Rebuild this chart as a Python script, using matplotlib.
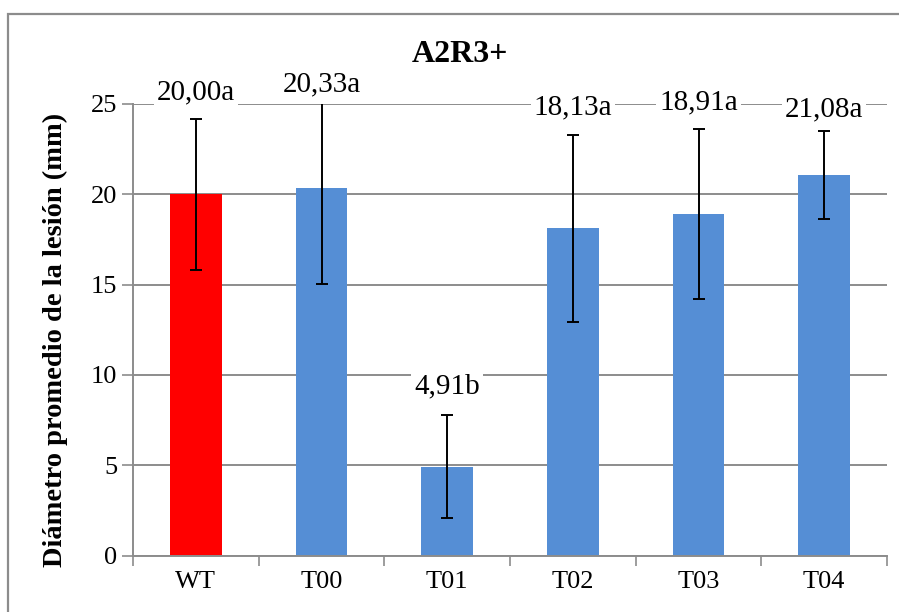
"""Bar chart: mean lesion diameter per treatment (A2R3+)."""

import matplotlib
matplotlib.use("Agg")
import matplotlib.pyplot as plt
from matplotlib.patches import Rectangle

# --- Data ---
categories = ["WT", "T00", "T01", "T02", "T03", "T04"]
means = [20.00, 20.33, 4.91, 18.13, 18.91, 21.08]
errors = [4.17, 5.31, 2.85, 5.18, 4.72, 2.45]
letters = ["a", "a", "b", "a", "a", "a"]
label_y = [25.67, 26.1, 9.35, 24.8, 25.1, 24.7]  # where each data label sits

RED = "#FF0000"
BLUE = "#558ED5"
GREY = "#8C8C8C"

plt.rcParams["font.family"] = "serif"
plt.rcParams["font.serif"] = ["Liberation Serif", "TeX Gyre Termes", "DejaVu Serif"]

W, H = 899, 612
fig = plt.figure(figsize=(W / 100, H / 100), dpi=100)

# outer chart border (cropped on right/bottom like the source)
fig.patches.append(Rectangle((8 / W, -0.05), 1.0, 1 - 14 / H + 0.05,
                             transform=fig.transFigure, fill=False,
                             edgecolor=GREY, linewidth=1.6))

ax = fig.add_axes([133 / W, 1 - 555.6 / H, (887 - 133) / W, (555.6 - 104) / H])

x = list(range(len(categories)))
colors = [RED] + [BLUE] * (len(categories) - 1)
ax.bar(x, means, width=0.41, color=colors, zorder=2)
ax.errorbar(x, means, yerr=errors, fmt="none", ecolor="black",
            elinewidth=1.4, capsize=4, capthick=1.4, zorder=3)

for xi, m, let, ly in zip(x, means, letters, label_y):
    txt = f"{m:.2f}".replace(".", ",") + let
    ax.text(xi, ly, txt, ha="center", va="center", fontsize=21,
            clip_on=False, zorder=4,
            bbox=dict(facecolor="white", edgecolor="none", pad=2))

# --- Axes styling ---
ax.set_xlim(-0.5, len(categories) - 0.5)
ax.set_ylim(0, 25)
ax.set_yticks([0, 5, 10, 15, 20, 25])
ax.yaxis.grid(True, color=GREY, linewidth=1.4, zorder=0)
ax.set_axisbelow(True)

ax.set_xticks(x)
ax.set_xticklabels(categories)
ax.set_xticks([i - 0.5 for i in range(len(categories) + 1)], minor=True)
ax.tick_params(axis="x", which="major", length=0, pad=11, labelsize=19)
ax.tick_params(axis="x", which="minor", length=7, width=1.2, color=GREY,
               direction="out")
ax.tick_params(axis="y", length=8, width=1.2, color=GREY, pad=3.5,
               labelsize=19)

for side in ("top", "right"):
    ax.spines[side].set_visible(False)
for side in ("left", "bottom"):
    ax.spines[side].set_color(GREY)
    ax.spines[side].set_linewidth(1.4)

fig.text(55 / W, 1 - 340 / H, "Diámetro promedio de la lesión (mm)",
         rotation=90, ha="center", va="center", fontsize=20.5,
         fontweight="bold")
fig.text(460 / W, 1 - 55 / H, "A2R3+", ha="center", va="center",
         fontsize=23, fontweight="bold")

fig.savefig("out.png", dpi=100)
